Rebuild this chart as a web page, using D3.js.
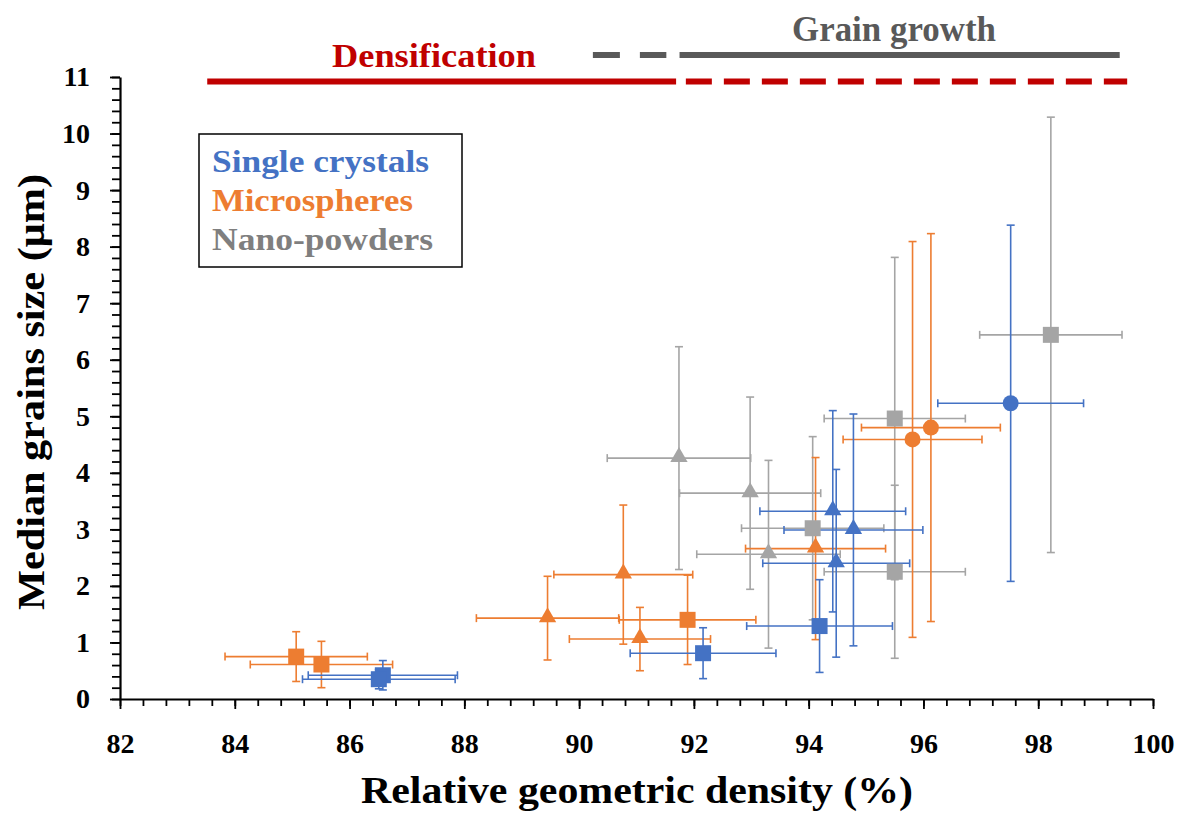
<!DOCTYPE html>
<html>
<head>
<meta charset="utf-8">
<script src="https://cdn.jsdelivr.net/npm/d3@7"></script>
<style>
  html, body { margin: 0; padding: 0; background: #fff; }
  svg text { font-family: "Liberation Serif", "DejaVu Serif", serif; font-weight: bold; }
</style>
</head>
<body>
<div id="chart"></div>
<script>
// [density %, grain size µm, density error, grain size error]
const singleCrystalSquares = [
  [86.58, 0.42, 1.30, 0.26],
  [86.51, 0.35, 1.33, 0.17],
  [92.16, 0.81, 1.27, 0.45],
  [94.19, 1.29, 1.27, 0.82]
];
const singleCrystalTriangles = [
  [94.42, 3.32, 1.27, 1.78],
  [94.78, 2.99, 1.21, 2.05],
  [94.48, 2.40, 1.28, 1.66]
];
const singleCrystalCircles = [
  [97.52, 5.23, 1.27, 3.15]
];
const microsphereSquares = [
  [85.07, 0.75, 1.24, 0.44],
  [85.51, 0.61, 1.24, 0.41],
  [91.89, 1.40, 1.19, 0.79]
];
const microsphereTriangles = [
  [89.45, 1.43, 1.24, 0.74],
  [90.77, 2.20, 1.21, 1.23],
  [91.06, 1.06, 1.23, 0.56],
  [94.12, 2.66, 1.22, 1.61]
];
const microsphereCircles = [
  [95.81, 4.59, 1.21, 3.50],
  [96.13, 4.80, 1.21, 3.43]
];
const nanoPowderTriangles = [
  [91.74, 4.26, 1.25, 1.97],
  [92.98, 3.64, 1.23, 1.70],
  [93.30, 2.56, 1.25, 1.66]
];
const nanoPowderSquares = [
  [94.07, 3.02, 1.24, 1.62],
  [95.50, 2.25, 1.23, 1.53],
  [95.50, 4.96, 1.23, 2.85],
  [98.22, 6.44, 1.24, 3.85]
];

const xTicks = [82, 84, 86, 88, 90, 92, 94, 96, 98, 100];
const yTicks = [0, 1, 2, 3, 4, 5, 6, 7, 8, 9, 10, 11];
const legendLabels = ['Single crystals', 'Microspheres', 'Nano-powders'];

// regime bars along the top, in density units
const densificationSolid = [83.52, 91.69];
const densificationDashed = [91.86, 99.55];
const grainGrowthDashed = [90.24, 91.52];
const grainGrowthSolid = [91.75, 99.42];

const BLUE = '#4472C4';
const ORANGE = '#ED7D31';
const GRAY = '#A5A5A5';
const W = 1178, H = 813;

const series = [
  { data: nanoPowderTriangles, color: GRAY, symbol: 'triangle' },
  { data: nanoPowderSquares, color: GRAY, symbol: 'square' },
  { data: microsphereSquares, color: ORANGE, symbol: 'square' },
  { data: microsphereTriangles, color: ORANGE, symbol: 'triangle' },
  { data: microsphereCircles, color: ORANGE, symbol: 'circle' },
  { data: singleCrystalSquares, color: BLUE, symbol: 'square' },
  { data: singleCrystalTriangles, color: BLUE, symbol: 'triangle' },
  { data: singleCrystalCircles, color: BLUE, symbol: 'circle' }
];

const svg = d3.select('#chart').append('svg')
  .attr('width', W).attr('height', H);

const x = d3.scaleLinear().domain([82, 100]).range([120, 1153]);
const y = d3.scaleLinear().domain([0, 11]).range([699, 77]);

// minor ticks
const xMinor = d3.range(82, 100.001, 0.4).map((v) => +v.toFixed(1));
const yMinor = d3.range(0, 11.001, 0.2).map((v) => +v.toFixed(1));

svg.append('g')
  .attr('transform', `translate(0,${y(0)})`)
  .call(d3.axisBottom(x).tickValues(xMinor).tickSize(7).tickFormat(''))
  .call((g) => g.select('.domain').remove())
  .call((g) => g.selectAll('line').attr('stroke', '#000').attr('stroke-width', 1.8));

svg.append('g')
  .attr('transform', `translate(${x(82)},0)`)
  .call(d3.axisLeft(y).tickValues(yMinor).tickSize(8).tickFormat(''))
  .call((g) => g.select('.domain').remove())
  .call((g) => g.selectAll('line').attr('stroke', '#000').attr('stroke-width', 1.8));

const xAxisEl = svg.append('g')
  .attr('transform', `translate(0,${y(0)})`)
  .call(d3.axisBottom(x).tickValues(xTicks).tickSize(10).tickSizeOuter(0).tickPadding(24));
const yAxisEl = svg.append('g')
  .attr('transform', `translate(${x(82)},0)`)
  .call(d3.axisLeft(y).tickValues(yTicks).tickSize(10).tickSizeOuter(0).tickPadding(20));

[xAxisEl, yAxisEl].forEach((g) => {
  g.select('.domain').attr('stroke', '#000').attr('stroke-width', 2.2);
  g.selectAll('.tick line').attr('stroke', '#000').attr('stroke-width', 1.8);
  g.selectAll('.tick text')
    .attr('fill', '#000')
    .style('font-family', '"Liberation Serif", serif')
    .style('font-weight', 'bold')
    .style('font-size', '28px');
});

// error bars
const bars = svg.append('g');
const cap = 4;
series.forEach((s) => {
  s.data.forEach(([dx, dy, ex, ey]) => {
    const g = bars.append('g')
      .attr('stroke', s.color).attr('stroke-width', 1.6).attr('fill', 'none');
    const cx = x(dx), cy = y(dy);
    const x0 = x(dx - ex), x1 = x(dx + ex);
    const y0 = y(Math.max(0, dy - ey)), y1 = y(dy + ey);
    g.append('line').attr('x1', x0).attr('x2', x1).attr('y1', cy).attr('y2', cy);
    g.append('line').attr('x1', x0).attr('x2', x0).attr('y1', cy - cap).attr('y2', cy + cap);
    g.append('line').attr('x1', x1).attr('x2', x1).attr('y1', cy - cap).attr('y2', cy + cap);
    g.append('line').attr('x1', cx).attr('x2', cx).attr('y1', y0).attr('y2', y1);
    g.append('line').attr('x1', cx - cap).attr('x2', cx + cap).attr('y1', y1).attr('y2', y1);
    g.append('line').attr('x1', cx - cap).attr('x2', cx + cap).attr('y1', y0).attr('y2', y0);
  });
});

// markers
const symbolTypes = {
  square: d3.symbol().type(d3.symbolSquare).size(256),
  triangle: d3.symbol().type(d3.symbolTriangle).size(130),
  circle: d3.symbol().type(d3.symbolCircle).size(201)
};
const markers = svg.append('g');
series.forEach((s) => {
  markers.selectAll(null)
    .data(s.data)
    .join('path')
    .attr('d', symbolTypes[s.symbol]())
    .attr('transform', (d) => `translate(${x(d[0])},${y(d[1]) + (s.symbol === 'triangle' ? -1 : 0)})`)
    .attr('fill', s.color);
});

// regime bars
const RED = '#C00000';
const DARK = '#595959';
const topLine = (range, yv, color, dash) => {
  svg.append('line')
    .attr('x1', x(range[0])).attr('x2', x(range[1]))
    .attr('y1', y(yv)).attr('y2', y(yv))
    .attr('stroke', color).attr('stroke-width', 6)
    .attr('stroke-dasharray', dash);
};
topLine(densificationSolid, 10.92, RED, null);
topLine(densificationDashed, 10.92, RED, '26,12');
topLine(grainGrowthDashed, 11.39, DARK, '27,20');
topLine(grainGrowthSolid, 11.39, DARK, null);

svg.append('text')
  .attr('x', 332).attr('y', 67)
  .attr('textLength', 204).attr('lengthAdjust', 'spacingAndGlyphs')
  .attr('fill', RED).style('font-size', '34px')
  .text('Densification');
svg.append('text')
  .attr('x', 792).attr('y', 41)
  .attr('textLength', 204).attr('lengthAdjust', 'spacingAndGlyphs')
  .attr('fill', DARK).style('font-size', '35px')
  .text('Grain growth');

// legend box
svg.append('rect')
  .attr('x', 199).attr('y', 134).attr('width', 263).attr('height', 133)
  .attr('fill', '#fff').attr('stroke', '#000').attr('stroke-width', 1.5);
const legendColors = [BLUE, ORANGE, '#7F7F7F'];
const legendWidths = [217, 201, 221];
legendLabels.forEach((t, i) => {
  svg.append('text')
    .attr('x', 212).attr('y', 172 + i * 39)
    .attr('textLength', legendWidths[i]).attr('lengthAdjust', 'spacingAndGlyphs')
    .attr('fill', legendColors[i]).style('font-size', '32px')
    .text(t);
});

// axis titles
svg.append('text')
  .attr('x', 361).attr('y', 803)
  .attr('textLength', 552).attr('lengthAdjust', 'spacingAndGlyphs')
  .attr('fill', '#000').style('font-size', '38px')
  .text('Relative geometric density (%)');
svg.append('text')
  .attr('transform', 'translate(44,610) rotate(-90)')
  .attr('x', 0).attr('y', 0)
  .attr('textLength', 436).attr('lengthAdjust', 'spacingAndGlyphs')
  .attr('fill', '#000').style('font-size', '38px')
  .text('Median grains size (μm)');
</script>
</body>
</html>
